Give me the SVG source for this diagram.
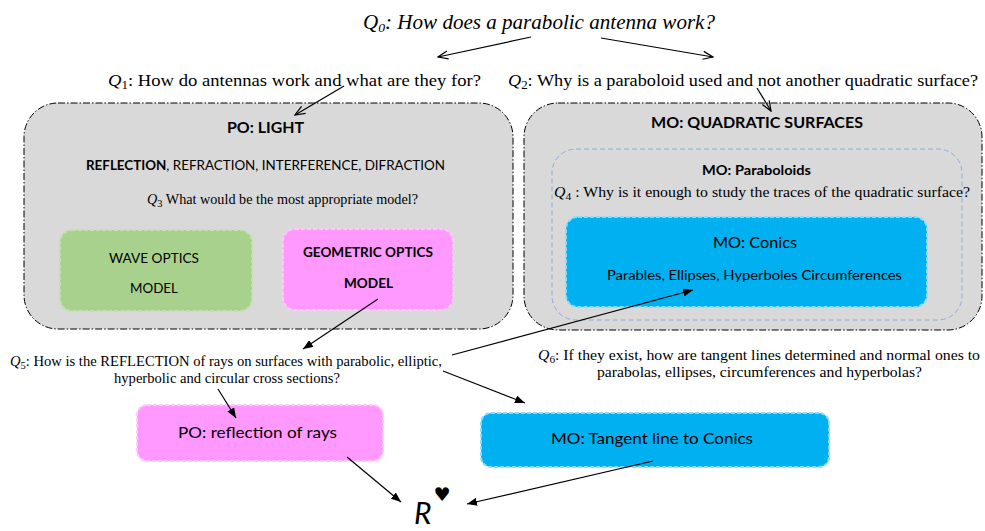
<svg xmlns="http://www.w3.org/2000/svg" width="985" height="531" viewBox="0 0 985 531">
<defs>
<marker id="open" viewBox="0 0 12 10" refX="11" refY="5" markerWidth="12" markerHeight="10" markerUnits="userSpaceOnUse" orient="auto">
<path d="M1,1 L11,5 L1,9" fill="none" stroke="#000" stroke-width="1.2"/>
</marker>
<marker id="solid" viewBox="0 0 10 8" refX="10" refY="4" markerWidth="10" markerHeight="8" markerUnits="userSpaceOnUse" orient="auto">
<path d="M0,0 L10,4 L0,8 Z" fill="#000"/>
</marker>
</defs>
<style>
.serif{font-family:"Liberation Serif","Times New Roman",serif;fill:#000}
.sans{font-family:Lato,"Liberation Sans",sans-serif;fill:#000}
.b{font-weight:bold}
.it{font-style:italic}
.big{fill:#d9d9d9;stroke:#000;stroke-width:1;stroke-dasharray:7 2 1.5 2}
.inner{fill:none;stroke:#8faadc;stroke-width:1;stroke-dasharray:5 3}
.green{fill:#a9d18e;stroke:#c3e0ad;stroke-width:2;stroke-dasharray:4 2}
.pink{fill:#ff99ff;stroke:#ffc8ff;stroke-width:2;stroke-dasharray:4 2}
.blue{fill:#00b0f0;stroke:#8adcf8;stroke-width:2;stroke-dasharray:4 2}
#connectors line{stroke:#000;stroke-width:1.2}
.o{marker-end:url(#open)}
.s{marker-end:url(#solid)}
</style>

<g id="q0"><text class="serif it" x="363" y="29" font-size="20" textLength="352" lengthAdjust="spacingAndGlyphs">Q<tspan font-size="13" dy="3">0</tspan><tspan dy="-3">: How does a parabolic antenna work?</tspan></text></g>

<g id="q1"><text class="serif" x="108" y="86" font-size="17" textLength="373" lengthAdjust="spacingAndGlyphs"><tspan class="it">Q</tspan><tspan font-size="12" dy="3">1</tspan><tspan dy="-3">: How do antennas work and what are they for?</tspan></text></g>

<g id="q2"><text class="serif" x="508" y="86" font-size="17" textLength="470" lengthAdjust="spacingAndGlyphs"><tspan class="it">Q</tspan><tspan font-size="12" dy="3">2</tspan><tspan dy="-3">: Why is a paraboloid used and not another quadratic surface?</tspan></text></g>

<g id="po-light">
<rect class="big" x="24" y="103" width="489" height="226" rx="34"/>
<text class="sans b" x="227" y="133" font-size="15" textLength="77" lengthAdjust="spacingAndGlyphs">PO: LIGHT</text>
<text class="sans" x="86" y="170" font-size="13" textLength="359" lengthAdjust="spacingAndGlyphs"><tspan class="b">REFLECTION</tspan>, REFRACTION, INTERFERENCE, DIFRACTION</text>
<text class="serif" x="147" y="204" font-size="15" textLength="271" lengthAdjust="spacingAndGlyphs"><tspan class="it">Q</tspan><tspan font-size="11" dy="3">3</tspan><tspan dy="-3"> What would be the most appropriate model?</tspan></text>
</g>

<g id="wave">
<rect class="green" x="60" y="230" width="192" height="81" rx="12"/>
<text class="sans" x="109" y="263" font-size="14" textLength="90" lengthAdjust="spacingAndGlyphs">WAVE OPTICS</text>
<text class="sans" x="130" y="293" font-size="14" textLength="48" lengthAdjust="spacingAndGlyphs">MODEL</text>
</g>

<g id="geometric">
<rect class="pink" x="283" y="229" width="170" height="81" rx="12"/>
<text class="sans b" x="303" y="257" font-size="14" textLength="130" lengthAdjust="spacingAndGlyphs">GEOMETRIC OPTICS</text>
<text class="sans b" x="344" y="288" font-size="14" textLength="49" lengthAdjust="spacingAndGlyphs">MODEL</text>
</g>

<g id="mo-quadratic">
<rect class="big" x="524" y="103" width="458" height="227" rx="34"/>
<text class="sans b" x="651" y="128" font-size="16" textLength="212" lengthAdjust="spacingAndGlyphs">MO: QUADRATIC SURFACES</text>
</g>

<g id="mo-paraboloids">
<rect class="inner" x="552" y="149" width="410" height="171" rx="24"/>
<text class="sans b" x="702" y="175" font-size="13" textLength="109" lengthAdjust="spacingAndGlyphs">MO: Paraboloids</text>
<text class="serif" x="554" y="197" font-size="15" textLength="416" lengthAdjust="spacingAndGlyphs"><tspan class="it">Q</tspan><tspan font-size="11" dy="3">4</tspan><tspan dy="-3"> : Why is it enough to study the traces of the quadratic surface?</tspan></text>
</g>

<g id="mo-conics">
<rect class="blue" x="566" y="217" width="361" height="90" rx="12"/>
<text class="sans" x="713" y="248" font-size="16" textLength="84" lengthAdjust="spacingAndGlyphs">MO: Conics</text>
<text class="sans" x="607" y="280" font-size="13.5" textLength="295" lengthAdjust="spacingAndGlyphs">Parables, Ellipses, Hyperboles Circumferences</text>
</g>

<g id="q5">
<text class="serif" x="10" y="366" font-size="14" textLength="432" lengthAdjust="spacingAndGlyphs"><tspan class="it">Q</tspan><tspan font-size="10" dy="3">5</tspan><tspan dy="-3">: How is the REFLECTION of rays on surfaces with parabolic, elliptic,</tspan></text>
<text class="serif" x="114" y="383" font-size="14" textLength="226" lengthAdjust="spacingAndGlyphs">hyperbolic and circular cross sections?</text>
</g>

<g id="q6">
<text class="serif" x="538" y="360" font-size="14" textLength="442" lengthAdjust="spacingAndGlyphs"><tspan class="it">Q</tspan><tspan font-size="10" dy="3">6</tspan><tspan dy="-3">: If they exist, how are tangent lines determined and normal ones to</tspan></text>
<text class="serif" x="597" y="377" font-size="14" textLength="325" lengthAdjust="spacingAndGlyphs">parabolas, ellipses, circumferences and hyperbolas?</text>
</g>

<g id="po-reflection">
<rect class="pink" x="137" y="405" width="246" height="56" rx="10"/>
<text class="sans" x="178" y="438" font-size="15" textLength="159" lengthAdjust="spacingAndGlyphs">PO: reflection of rays</text>
</g>

<g id="mo-tangent">
<rect class="blue" x="481" y="413" width="348" height="54" rx="10"/>
<text class="sans" x="551" y="444" font-size="15" textLength="202" lengthAdjust="spacingAndGlyphs">MO: Tangent line to Conics</text>
</g>

<g id="r">
<text class="sans it" x="414" y="524" font-size="30">R</text>
<text x="442" y="501" font-size="19" text-anchor="middle" font-family="'DejaVu Sans',sans-serif" fill="#000">♥</text>
</g>

<g id="connectors">
<line class="o" x1="531" y1="37" x2="438" y2="57"/>
<line class="o" x1="601" y1="38" x2="713" y2="57"/>
<line class="o" x1="344" y1="86" x2="295" y2="115"/>
<line class="o" x1="757" y1="88" x2="771" y2="111"/>
<line class="s" x1="378" y1="299" x2="303" y2="349"/>
<line class="s" x1="452" y1="355" x2="693" y2="290"/>
<line class="s" x1="443" y1="371" x2="525" y2="403"/>
<line class="s" x1="218" y1="389" x2="236" y2="418"/>
<line class="s" x1="347" y1="457" x2="401" y2="502"/>
<line class="s" x1="653" y1="461" x2="467" y2="504"/>
</g>
</svg>
